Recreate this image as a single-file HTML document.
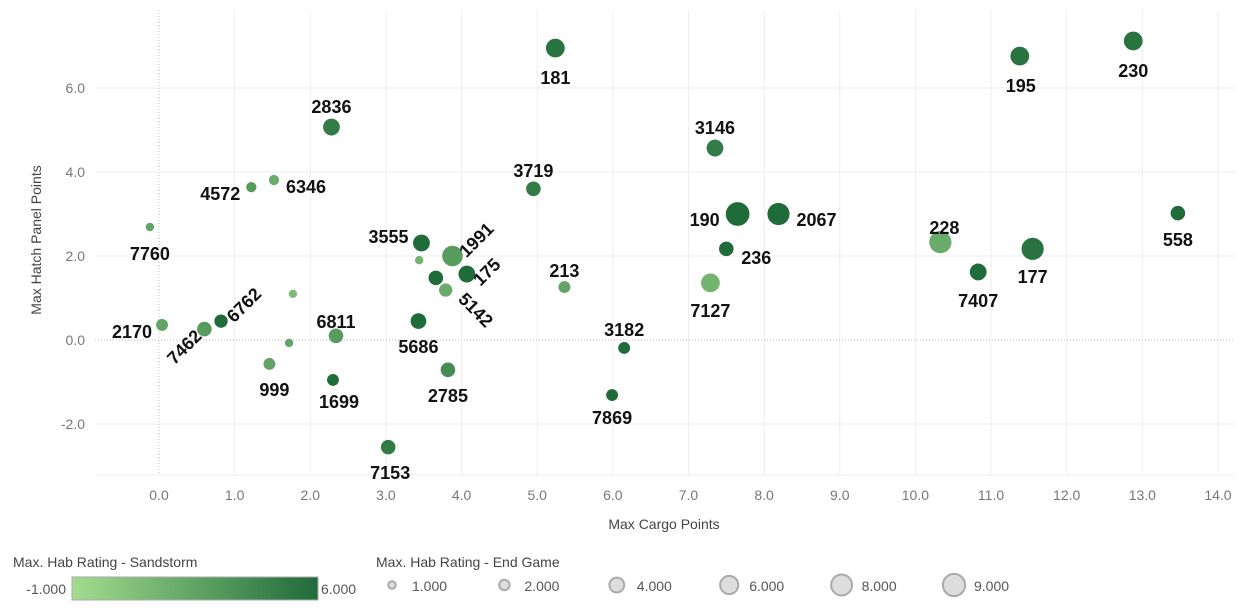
<!DOCTYPE html>
<html><head><meta charset="utf-8"><style>
body{margin:0;background:#fff;font-family:"Liberation Sans",sans-serif;}
svg{display:block}
</style></head><body>
<svg id="c" width="1246" height="608" xmlns="http://www.w3.org/2000/svg"></svg>
<script>
const ids   =["181","195","230","2836","3146","4572","6346","3719","7760","190","2067","236","228","177","558","7407","3555","1991","175","","","5142","213","7127","","2170","7462","6762","6811","","5686","3182","999","1699","2785","7869","7153"];
const cargo =[5.24,11.38,12.88,2.28,7.35,1.22,1.52,4.95,-0.12,7.65,8.19,7.5,10.33,11.55,13.47,10.83,3.47,3.88,4.07,3.44,3.66,3.79,5.36,7.29,1.77,0.04,0.6,0.82,2.34,1.72,3.43,6.15,1.46,2.3,3.82,5.99,3.03];
const hatch =[6.95,6.76,7.12,5.07,4.57,3.64,3.81,3.6,2.69,3.0,3.0,2.17,2.33,2.17,3.02,1.62,2.31,2.0,1.57,1.9,1.48,1.19,1.26,1.36,1.1,0.36,0.26,0.45,0.1,-0.07,0.45,-0.19,-0.57,-0.95,-0.71,-1.31,-2.55];
const endGame=[5,5,5,4,4,1.5,1.5,3,1,8,7,3,7,7,3,4,4,6,4,1,3,2.5,2,5,1,2,3,2.5,3,1,3.5,2,2,2,3,2,3];
const sand  =[5.5,5.5,5.5,5,5,3,2,5,2.5,6,6,6,2,5.5,6,6,6,3,6,1.5,6,2,2.5,1.5,1,2.5,3,6,3,2.5,6,6,2.5,6,4,6,5];
const labelLayout=[[0,30,0],[1,30,0],[0,30,0],[0,-20,0],[0,-20,0],[-31,7,0],[32,7,0],[0,-18,0],[0,27,0],[-33,6,0],[38,6,0],[30,9,0],[4,-14,0],[0,28,0],[0,27,0],[0,29,0],[-33,-6,0],[24,-16,-45],[20,-2,-45],[0,0,0],[0,0,0],[30,20,45],[0,-16,0],[0,28,0],[0,0,0],[-30,7,0],[-20,18,-45],[23,-16,-45],[0,-14,0],[0,0,0],[0,26,0],[0,-18,0],[5,26,0],[6,22,0],[0,26,0],[0,23,0],[2,26,0]];
const xTicks=[0,1,2,3,4,5,6,7,8,9,10,11,12,13,14];
const yTicks=[-2,0,2,4,6];
const sizeLegend=[1,2,4,6,8,9];

const svg=document.getElementById('c');const NS='http://www.w3.org/2000/svg';
function el(t,a,p){const e=document.createElementNS(NS,t);for(const k in a)e.setAttribute(k,a[k]);(p||svg).appendChild(e);return e;}
const X=v=>159+v*75.64, Y=v=>340-v*42;
function col(v){const t=Math.max(0,Math.min(1,(v+1)/7));const a=[163,220,143],b=[31,107,58];return 'rgb('+a.map((c,i)=>Math.round(c+(b[i]-c)*t)).join(',')+')';}
const R=v=>4.2*Math.sqrt(v);
for(const t of xTicks){const g=el('line',{x1:X(t),x2:X(t),y1:10,y2:475,stroke:t===0?'#bbb':'#eee','stroke-dasharray':t===0?'1,2':'none'});
const tx=el('text',{x:X(t),y:500,'text-anchor':'middle','font-size':14,fill:'#777'});tx.textContent=t.toFixed(1);}
for(const t of yTicks){const g=el('line',{x1:95,x2:1235,y1:Y(t),y2:Y(t),stroke:t===0?'#bbb':'#eee','stroke-dasharray':t===0?'1,2':'none'});
const tx=el('text',{x:85,y:Y(t)+5,'text-anchor':'end','font-size':14,fill:'#777'});tx.textContent=t.toFixed(1);}
el('line',{x1:95,x2:1235,y1:475,y2:475,stroke:'#eee'});
const xt=el('text',{x:664,y:529,'text-anchor':'middle','font-size':14,fill:'#444'});xt.textContent='Max Cargo Points';
const yt=el('text',{x:41,y:240,'text-anchor':'middle','font-size':14,fill:'#444',transform:'rotate(-90 41 240)'});yt.textContent='Max Hatch Panel Points';
const order=ids.map((_,i)=>i).sort((a,b)=>endGame[b]-endGame[a]);
for(const i of order){const c=el('circle',{cx:X(cargo[i]),cy:Y(hatch[i]),r:R(endGame[i]),fill:col(sand[i])});}
for(let i=0;i<ids.length;i++){if(!ids[i])continue;const [dx,dy,rot]=labelLayout[i];const x=X(cargo[i])+dx,y=Y(hatch[i])+dy;
const t=el('text',{x:x,y:y+6,'text-anchor':'middle','font-size':18,'font-weight':'bold',fill:'#111',transform:'rotate('+rot+' '+x+' '+y+')'});t.textContent=ids[i];}
const lt=el('text',{x:13,y:567,'font-size':14,fill:'#444'});lt.textContent='Max. Hab Rating - Sandstorm';
const defs=el('defs',{});const lg=el('linearGradient',{id:'g'},defs);el('stop',{offset:0,'stop-color':col(-1)},lg);el('stop',{offset:1,'stop-color':col(6)},lg);
const bar=el('rect',{x:72,y:577,width:246,height:23,fill:'url(#g)',stroke:'#aaa'});
let t1=el('text',{x:66,y:594,'text-anchor':'end','font-size':14,fill:'#555'});t1.textContent='-1.000';
let t2=el('text',{x:321,y:594,'font-size':14,fill:'#555'});t2.textContent='6.000';
const st=el('text',{x:376,y:567,'font-size':14,fill:'#444'});st.textContent='Max. Hab Rating - End Game';
sizeLegend.forEach((v,k)=>{const cx=392+k*112.4;const c=el('circle',{cx:cx,cy:585,r:3.9*Math.sqrt(v)*0.95,fill:'#ddd',stroke:'#aaa','stroke-width':2});
const t=el('text',{x:cx+20,y:591,'font-size':14,fill:'#555'});t.textContent=v.toFixed(3);});
</script>
</body></html>
